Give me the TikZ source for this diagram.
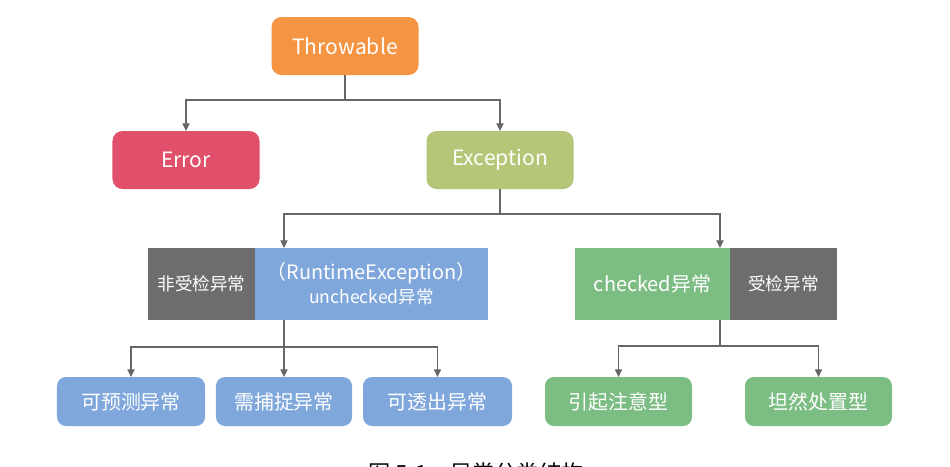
\documentclass[tikz,border=0pt]{standalone}
\usepackage{fontspec}
\setmainfont{Noto Sans CJK SC}
\usetikzlibrary{arrows.meta,positioning}
\definecolor{exorange}{HTML}{F59443}
\definecolor{exred}{HTML}{E0506B}
\definecolor{exolive}{HTML}{B6C678}
\definecolor{exblue}{HTML}{7FA7DC}
\definecolor{exgray}{HTML}{6D6D6D}
\definecolor{exgreen}{HTML}{7CBD84}
\definecolor{exline}{HTML}{666666}

\begin{document}
\begin{tikzpicture}[x=0.03cm, y=-0.03cm,
    box/.style={rectangle, rounded corners=0.3cm, text=white, inner sep=0pt, outer sep=0pt,
      minimum width=4.41cm, minimum height=1.74cm, font=\fontsize{18}{21}\selectfont},
    flatbox/.style={rectangle, text=white, inner sep=0pt, outer sep=0pt, minimum height=2.16cm},
    leafbox/.style={box, minimum height=1.47cm, rounded corners=0.27cm, font=\fontsize{17}{20}\selectfont},
    link/.style={draw=exline, line width=0.9pt},
    arr/.style={link, -{Triangle[length=2.3mm, width=2.2mm]}}]
  \useasboundingbox (0,0) rectangle (950,466);

  % Nodes
  \node[box, fill=exorange] (throw) at (345,46) {Throwable};
  \node[box, fill=exred] (error) at (186,160) {Error};
  \node[box, fill=exolive] (exc) at (500,160) {Exception};

  \node[flatbox, fill=exgray, minimum width=3.21cm, font=\fontsize{15}{18}\selectfont] (unchk) at (201.5,284) {非受检异常};
  \node[flatbox, fill=exblue, minimum width=6.99cm, align=center, right=0pt of unchk] (runtime)
    {\fontsize{17}{20}\selectfont （RuntimeException）\\[3pt] \fontsize{15}{18}\selectfont unchecked异常};
  \node[flatbox, fill=exgreen, minimum width=4.65cm, font=\fontsize{17}{20}\selectfont] (chk) at (652.5,284) {checked异常};
  \node[flatbox, fill=exgray, minimum width=3.21cm, font=\fontsize{15}{18}\selectfont, right=0pt of chk] (chktag) {受检异常};

  \node[leafbox, fill=exblue, minimum width=4.44cm] (p1) at (131,401.5) {可预测异常};
  \node[leafbox, fill=exblue, minimum width=4.08cm] (p2) at (284,401.5) {需捕捉异常};
  \node[leafbox, fill=exblue, minimum width=4.47cm] (p3) at (437.5,401.5) {可透出异常};
  \node[leafbox, fill=exgreen] (c1) at (618.5,401.5) {引起注意型};
  \node[leafbox, fill=exgreen] (c2) at (818.5,401.5) {坦然处置型};

  \node[anchor=north, inner sep=0pt, font=\fontsize{19}{22}\selectfont] (caption) at (476,463) {图~5-1\quad 异常分类结构};

  % Branch points
  \coordinate (j1) at (345,100);
  \coordinate (j2) at (500,214);
  \coordinate (j3) at (284,347);
  \coordinate (j4) at (720,346);

  % Arrows
  \draw[link] (throw) -- (j1);
  \draw[arr] (j1) -| (error);
  \draw[arr] (j1) -| (exc);

  \draw[link] (exc) -- (j2);
  \draw[arr] (j2) -| (runtime.north -| p2.north);
  \draw[arr] (j2) -| (chk.north -| j4);

  \draw[link] (runtime.south -| j3) -- (j3);
  \draw[arr] (j3) -| (p1);
  \draw[arr] (j3) -- (p2);
  \draw[arr] (j3) -| (p3);

  \draw[link] (chk.south -| j4) -- (j4);
  \draw[arr] (j4) -| (c1);
  \draw[arr] (j4) -| (c2);
\end{tikzpicture}
\end{document}
